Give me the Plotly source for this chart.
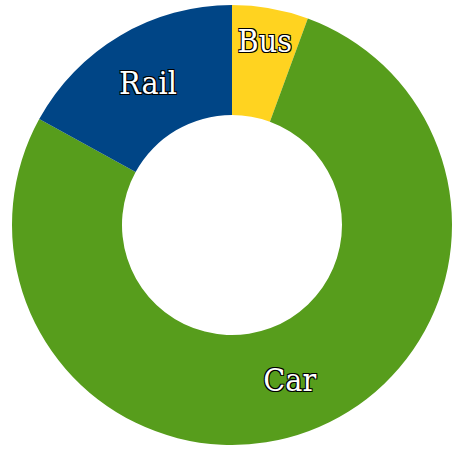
import plotly.graph_objects as go

labels = ["Bus", "Car", "Rail"]
values = [5.6, 77.4, 17.0]
colors = ["#ffd320", "#579d1c", "#004586"]

fig = go.Figure(go.Pie(
    labels=labels,
    values=values,
    hole=0.5,
    sort=False,
    direction="clockwise",
    rotation=0,
    marker=dict(colors=colors, line=dict(width=0)),
    textinfo="label",
    textposition="inside",
    insidetextorientation="horizontal",
    textfont=dict(
        family="DejaVu Serif Condensed, DejaVu Serif",
        size=32,
        color="white",
        shadow="1px 1px 0 #000, -1px -1px 0 #000, 1px -1px 0 #000, -1px 1px 0 #000",
    ),
    showlegend=False,
    hoverinfo="label+percent",
))

fig.update_layout(
    width=452,
    height=450,
    margin=dict(l=12, r=0, t=3, b=3),
    paper_bgcolor="white",
    plot_bgcolor="white",
    uniformtext=dict(mode="show", minsize=32),
)

fig.write_html(
    "out.html",
    config={"displayModeBar": False},
    post_script="document.body.style.margin='0';",
)
